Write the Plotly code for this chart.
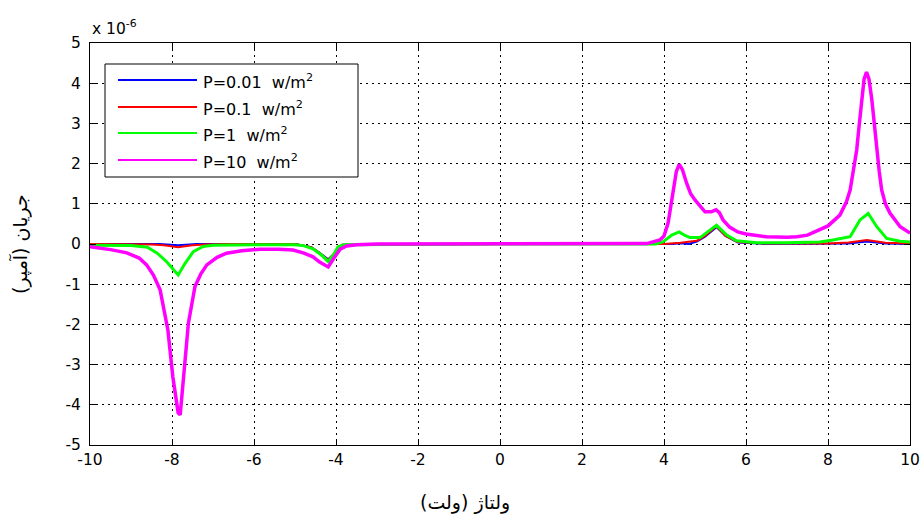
import plotly.graph_objects as go

# Values in units of 1e-6 A
x_p10 = [-10, -9.5, -9.1, -8.8, -8.62, -8.45, -8.29, -8.2, -8.1, -7.98, -7.9, -7.85, -7.8, -7.72, -7.6, -7.5,
         -7.44, -7.3, -7.15, -6.9, -6.67, -6.3, -5.85, -5.4, -5.05, -4.8, -4.56, -4.4, -4.19, -4.05, -3.9, -3.74,
         -3.5, -3, 0, 3, 3.58, 3.9, 4.0, 4.1, 4.22, 4.3, 4.37, 4.45, 4.55, 4.65, 4.76, 4.9, 5.0, 5.15, 5.27, 5.35,
         5.44, 5.6, 5.8, 6.0, 6.5, 7.0, 7.24, 7.5, 7.8, 8.0, 8.29, 8.45, 8.54, 8.62, 8.7, 8.76, 8.82, 8.88, 8.94,
         9.0, 9.07, 9.13, 9.19, 9.25, 9.31, 9.4, 9.51, 9.76, 10]
y_p10 = [-0.07, -0.14, -0.22, -0.35, -0.52, -0.78, -1.14, -1.6, -2.14, -3.3, -3.9, -4.2, -4.25, -3.3, -1.97, -1.4,
         -1.06, -0.75, -0.52, -0.33, -0.23, -0.17, -0.13, -0.13, -0.15, -0.22, -0.32, -0.45, -0.57, -0.35, -0.13, -0.05,
         -0.02, 0, 0, 0, 0.01, 0.1, 0.2, 0.52, 1.34, 1.8, 1.98, 1.85, 1.52, 1.25, 1.09, 0.9, 0.8, 0.8, 0.85, 0.78,
         0.6, 0.42, 0.3, 0.25, 0.18, 0.17, 0.18, 0.22, 0.35, 0.45, 0.72, 1.05, 1.34, 1.8, 2.34, 2.95, 3.58, 4.1, 4.28,
         4.1, 3.58, 2.95, 2.34, 1.8, 1.34, 1.0, 0.77, 0.43, 0.27]

x_p1 = [-10, -9, -8.6, -8.37, -8.13, -7.98, -7.85, -7.68, -7.48, -7.24, -7.0, -6, -5, -4.8, -4.56, -4.35, -4.19,
        -4.05, -3.95, -3.8, 0, 3.8, 3.98, 4.19, 4.37, 4.5, 4.63, 4.88, 5.07, 5.28, 5.4, 5.53, 5.77, 6.26, 7, 7.8,
        8.12, 8.54, 8.78, 8.98, 9.19, 9.43, 9.76, 10]
y_p1 = [-0.03, -0.04, -0.08, -0.22, -0.44, -0.62, -0.77, -0.48, -0.19, -0.06, -0.03, -0.02, -0.02, -0.04, -0.12,
        -0.28, -0.44, -0.25, -0.07, -0.02, 0, 0, 0.06, 0.22, 0.3, 0.22, 0.16, 0.16, 0.3, 0.47, 0.35, 0.22, 0.08, 0.03,
        0.03, 0.05, 0.1, 0.18, 0.6, 0.76, 0.43, 0.14, 0.07, 0.05]

x_p01 = [-10, -9, -8.5, -8.2, -7.85, -7.5, -7.2, -6.5, -5, -4.6, -4.4, -4.19, -4.0, -3.85, 0, 4.0, 4.4, 4.8, 5.0,
         5.28, 5.5, 5.8, 6.5, 8.0, 8.5, 8.95, 9.4, 10]
y_p01 = [0, 0, -0.01, -0.03, -0.08, -0.03, -0.01, 0, 0, -0.08, -0.22, -0.4, -0.2, -0.02, 0, 0, 0.03, 0.08, 0.2,
         0.44, 0.2, 0.05, 0.01, 0.01, 0.04, 0.1, 0.03, 0.01]

x_p001 = [-10, -8.3, -7.85, -7.4, -5, -4.6, -4.4, -4.19, -4.0, -3.85, 0, 4.2, 4.4, 4.6, 4.8, 5.0, 5.28, 5.5, 5.8,
          6.5, 8.5, 8.95, 9.4, 10]
y_p001 = [0, 0, -0.03, 0, 0, -0.08, -0.22, -0.38, -0.2, -0.02, 0, 0, 0.02, 0, 0.06, 0.18, 0.42, 0.2, 0.04, 0, 0.01,
          0.06, 0.01, 0]

scale = 1e-6
y_ticks = [-5, -4, -3, -2, -1, 0, 1, 2, 3, 4, 5]
x_ticks = [-10, -8, -6, -4, -2, 0, 2, 4, 6, 8, 10]

legend_names = ["P=0.01\u00a0\u00a0w/m<sup>2</sup>", "P=0.1\u00a0\u00a0w/m<sup>2</sup>",
                "P=1\u00a0\u00a0w/m<sup>2</sup>", "P=10\u00a0\u00a0w/m<sup>2</sup>"]
colors = ["#0000ff", "#ff0000", "#00ff00", "#ff00ff"]
widths = [2, 2, 3, 3.5]
xs_all = [x_p001, x_p01, x_p1, x_p10]
ys_all = [y_p001, y_p01, y_p1, y_p10]

W, H = 923, 519
ML, MR, MT, MB = 90, 13, 43, 74
PW, PH = W - ML - MR, H - MT - MB


def px_x(px):
    return (px - ML) / PW


def px_y(py):
    return (H - MB - py) / PH


fig = go.Figure()
for name, xs, ys, col, w in zip(legend_names, xs_all, ys_all, colors, widths):
    fig.add_trace(go.Scatter(x=xs, y=[v * scale for v in ys], mode="lines", name=name,
                             line=dict(color=col, width=w), showlegend=False))

font = dict(family="DejaVu Sans, Liberation Sans, sans-serif", size=15.5, color="black")
axis_common = dict(showline=True, linecolor="black", linewidth=1, mirror="ticks", ticks="inside",
                   ticklen=6, tickcolor="black", showgrid=True, gridcolor="black", griddash="2px,4px",
                   gridwidth=1, zeroline=False, tickfont=font, automargin=False)

shapes = [dict(type="rect", xref="paper", yref="paper", x0=px_x(105), x1=px_x(358), y0=px_y(64), y1=px_y(177),
               line=dict(color="black", width=1), fillcolor="white", layer="above")]
annotations = []
rows = [80, 107, 133, 160]
for name, col, row in zip(legend_names, colors, rows):
    shapes.append(dict(type="line", xref="paper", yref="paper", x0=px_x(118), x1=px_x(197),
                       y0=px_y(row), y1=px_y(row), line=dict(color=col, width=2), layer="above"))
    annotations.append(dict(text=name, xref="paper", yref="paper", x=px_x(201), y=px_y(row + 1),
                            xanchor="left", yanchor="middle", showarrow=False,
                            font=dict(family="DejaVu Sans, Liberation Sans, sans-serif", size=16, color="black")))

annotations += [
    dict(text="x 10<sup>-6</sup>", xref="paper", yref="paper", x=0, y=1, xanchor="left", yanchor="bottom",
         yshift=3, showarrow=False, font=font),
    dict(text="ولتاژ (ولت)", xref="paper", yref="paper", x=px_x(465), y=px_y(503), xanchor="center",
         yanchor="middle", showarrow=False,
         font=dict(family="DejaVu Sans", size=19, color="black")),
    dict(text="جریان (آمپر)", xref="paper", yref="paper", x=px_x(20), y=px_y(244), xanchor="center",
         yanchor="middle", textangle=-90, showarrow=False,
         font=dict(family="DejaVu Sans", size=19, color="black")),
]

fig.update_layout(
    width=W, height=H,
    margin=dict(l=ML, r=MR, t=MT, b=MB),
    paper_bgcolor="white", plot_bgcolor="white",
    showlegend=False,
    xaxis=dict(range=[-10, 10], tickvals=x_ticks, ticktext=[str(t) for t in x_ticks], **axis_common),
    yaxis=dict(range=[-5 * scale, 5 * scale], tickvals=[t * scale for t in y_ticks],
               ticktext=[str(t) for t in y_ticks], ticklabelstandoff=5, **axis_common),
    shapes=shapes,
    annotations=annotations,
)

fig.write_html("out.html")
